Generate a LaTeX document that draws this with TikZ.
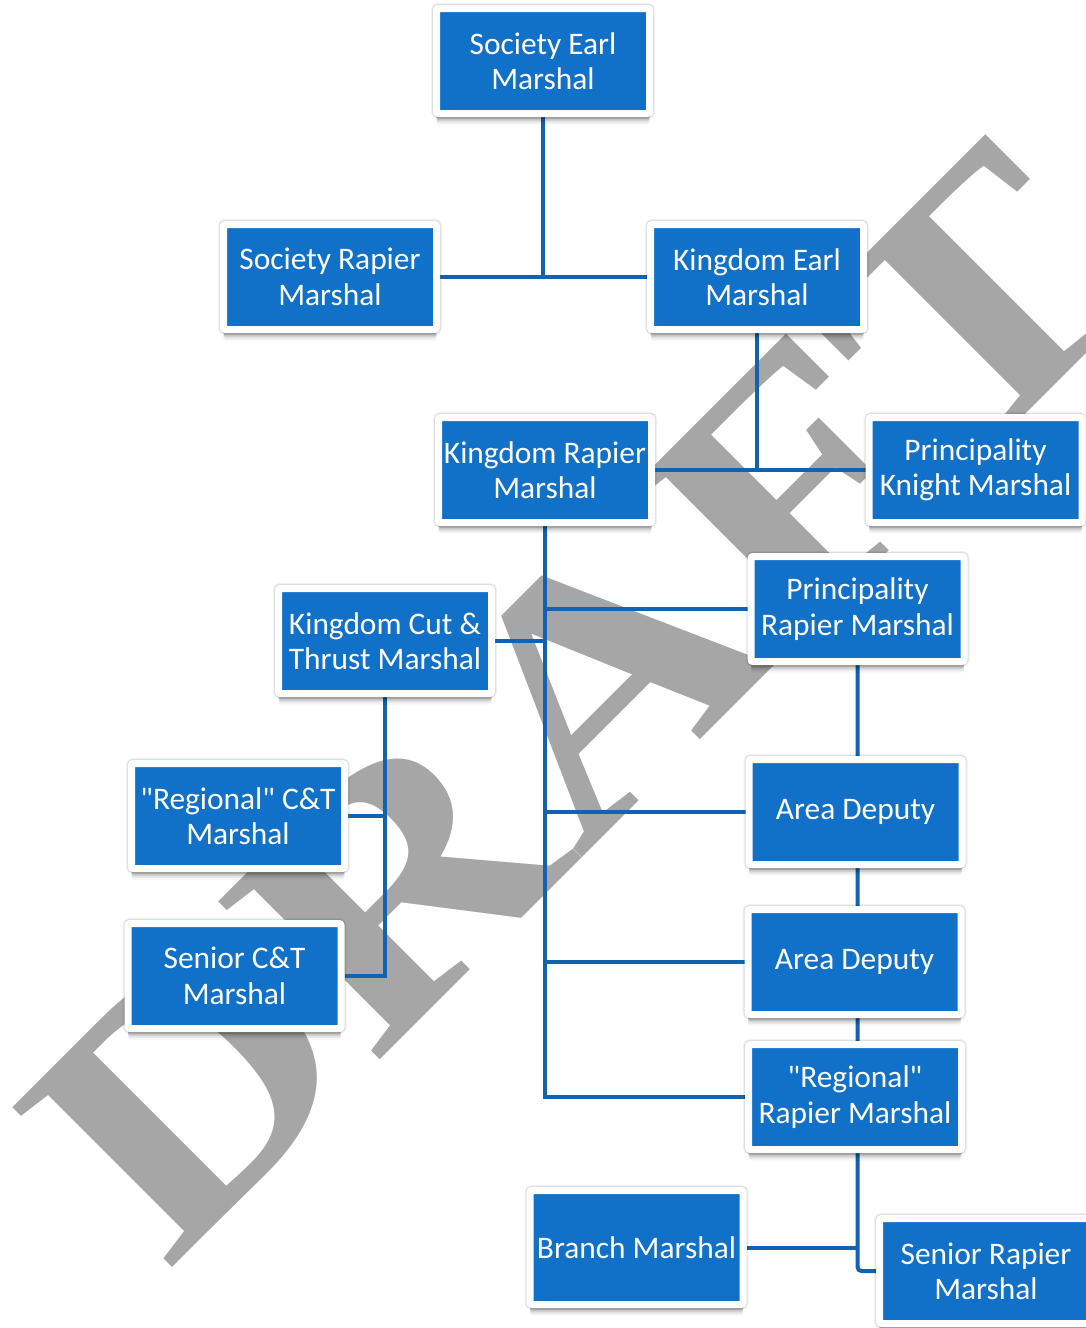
\documentclass[tikz,border=0pt]{standalone}
\usepackage{fontspec}
\usepackage{graphicx}
\usetikzlibrary{shadows}
\newfontfamily\boxfont{Carlito}
\newfontfamily\wmfont[Kerning=Off]{Liberation Serif}
\definecolor{boxblue}{RGB}{17,112,199}
\definecolor{linkblue}{RGB}{18,98,176}
\definecolor{wmgray}{RGB}{166,166,166}
\pgfdeclarelayer{wm}
\pgfdeclarelayer{links}
\pgfsetlayers{wm,links,main}
\begin{document}
\begin{tikzpicture}[x=1pt,y=-1pt,
  boxshadow/.style={
    preaction={draw=black, line width=11pt, draw opacity=0.05},
    preaction={draw=black, line width=9pt, draw opacity=0.08},
    general shadow={shadow yshift=-5pt, fill=black, opacity=0.16},
    general shadow={shadow yshift=-7pt, fill=black, opacity=0.12},
    general shadow={shadow yshift=-9pt, fill=black, opacity=0.07},
    general shadow={shadow yshift=-11pt, fill=black, opacity=0.04}},
  box/.style={boxshadow, fill=boxblue, draw=white, line width=7pt,
    rounded corners=2pt, minimum width=213pt, minimum height=105pt,
    inner sep=0pt, text=white, align=center,
    font={\boxfont\fontsize{31.4pt}{35.4pt}\selectfont}},
  link/.style={draw=linkblue, line width=4pt}]
\useasboundingbox (0,0) rectangle (1086,1328);
\begin{pgfonlayer}{wm}
\fill[white] (0,0) rectangle (1086,1328);
\node[rotate=45, anchor=base west, inner sep=0pt, text=wmgray,
  font={\wmfont\bfseries\fontsize{345pt}{345pt}\selectfont}] (wm) at (167,1273)
  {\scalebox{1.17}[1]{DRAFT}};
\end{pgfonlayer}

\node[box] (sem) at (543,61) {Society Earl\\Marshal};
\node[box] (srm) at (330,277) {Society Rapier\\Marshal};
\node[box] (kem) at (757,277) {Kingdom Earl\\Marshal};
\node[box] (krm) at (545,470) {Kingdom Rapier\\Marshal};
\node[box] (pkm) at (975.5,470) {Principality\\Knight Marshal};
\node[box] (prm) at (857.5,609) {Principality\\Rapier Marshal};
\node[box] (kct) at (385,641) {Kingdom Cut \&\\Thrust Marshal};
\node[box] (rct) at (238,816) {"Regional" C\&T\\Marshal};
\node[box] (sct) at (234.5,976) {Senior C\&T\\Marshal};
\node[box] (ad1) at (855.5,812) {Area Deputy};
\node[box] (ad2) at (854.5,962) {Area Deputy};
\node[box] (rrm) at (855,1097) {"Regional"\\Rapier Marshal};
\node[box, minimum height=114pt] (bm) at (636.5,1247.5) {Branch Marshal};
\node[box] (srmb) at (986,1271) {Senior Rapier\\Marshal};

\begin{pgfonlayer}{links}
\draw[link] (sem) -- (sem |- srm.east);
\draw[link] (srm.east) -- (kem.west);
\draw[link] (kem) -- (kem |- krm.east);
\draw[link] (krm.east) -- (pkm.west);
\draw[link] (krm) -- (krm |- rrm.west) -- (rrm.west);
\draw[link] (krm |- prm.west) -- (prm.west);
\draw[link] (kct.east) -- (kct.east -| krm);
\draw[link] (krm |- ad1.west) -- (ad1.west);
\draw[link] (krm |- ad2.west) -- (ad2.west);
\draw[link] (kct) -- (kct |- sct.east) -- (sct.east);
\draw[link] (rct.east) -- (rct.east -| kct);
\draw[link, rounded corners=4pt] (prm) |- (srmb.west);
\draw[link] (bm.east) -- (bm.east -| prm);
\end{pgfonlayer}
\end{tikzpicture}
\end{document}
